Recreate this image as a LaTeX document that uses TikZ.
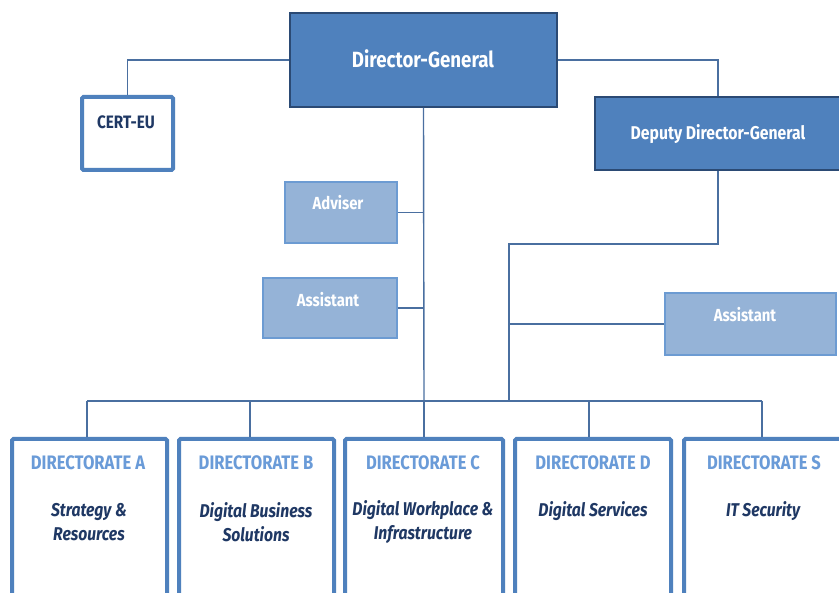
\documentclass[tikz,border=0pt]{standalone}
\usepackage{fontspec}
\setmainfont{Fira Sans}[FakeStretch=0.85]
\definecolor{mainblue}{HTML}{4F81BD}
\definecolor{darkedge}{HTML}{2B4A74}
\definecolor{lightfill}{HTML}{95B3D7}
\definecolor{lightedge}{HTML}{6C9BD2}
\definecolor{titleblue}{HTML}{6A9BD8}
\definecolor{navy}{HTML}{1F3864}
\definecolor{connc}{HTML}{4A6FA0}
\tikzset{
  topbox/.style={draw=darkedge, line width=1.8pt, fill=mainblue, inner sep=0pt},
  helpbox/.style={draw=lightedge, line width=1.2pt, fill=lightfill, inner sep=0pt},
  dirbox/.style={draw=mainblue, line width=4pt, fill=white, rounded corners=1.5pt, inner sep=0pt},
  conn/.style={draw=connc, line width=1.4pt},
  whitetxt/.style={text=white, font=\bfseries, inner sep=0pt},
  titletxt/.style={text=titleblue, font=\fontsize{19.5}{22}\selectfont\bfseries, inner sep=0pt},
  subtxt/.style={text=navy, font=\fontsize{18.5}{23.5}\selectfont\bfseries\itshape, align=center, inner sep=0pt},
}
\begin{document}
\begin{tikzpicture}[x=1pt,y=-1pt]
\useasboundingbox (0,0) rectangle (839,593);
\clip (0,0) rectangle (839,593);
\fill[white] (0,0) rectangle (839,593);
% boxes
\node[topbox, minimum width=267pt, minimum height=94pt] (dg) at (423.5,60) {};
\node[dirbox, minimum width=91pt, minimum height=73pt] (cert) at (127.5,133.5) {};
\node[topbox, minimum width=246pt, minimum height=73pt] (ddg) at (718,133.5) {};
\node[helpbox, minimum width=112pt, minimum height=61pt] (adv) at (341,212.5) {};
\node[helpbox, minimum width=134pt, minimum height=60pt] (asl) at (330,308) {};
\node[helpbox, minimum width=171pt, minimum height=62pt] (asr) at (750.5,324) {};
\node[dirbox, minimum width=155pt, minimum height=201pt] (dA) at (89.5,539.5) {};
\node[dirbox, minimum width=155pt, minimum height=201pt] (dB) at (256.5,539.5) {};
\node[dirbox, minimum width=158pt, minimum height=201pt] (dC) at (424,539.5) {};
\node[dirbox, minimum width=156pt, minimum height=201pt] (dD) at (593,539.5) {};
\node[dirbox, minimum width=158pt, minimum height=201pt] (dS) at (763,539.5) {};
% texts
\node[whitetxt, font=\fontsize{22}{25}\selectfont\bfseries] (tdg) at (423,59) {Director-General};
\node[text=navy, font=\fontsize{18}{20}\selectfont\bfseries, inner sep=0pt] (tcert) at (126,122) {CERT-EU};
\node[whitetxt, font=\fontsize{18.5}{21}\selectfont\bfseries] (tddg) at (718,134) {Deputy Director-General};
\node[whitetxt, font=\fontsize{17.5}{20}\selectfont\bfseries] (tadv) at (338,203) {Adviser};
\node[whitetxt, font=\fontsize{17.5}{20}\selectfont\bfseries] (tasl) at (328,300) {Assistant};
\node[whitetxt, font=\fontsize{17.5}{20}\selectfont\bfseries] (tasr) at (745,315) {Assistant};
\node[titletxt] (tA) at (88,463) {DIRECTORATE A};
\node[titletxt] (tB) at (256,463) {DIRECTORATE B};
\node[titletxt] (tC) at (423,463) {DIRECTORATE C};
\node[titletxt] (tD) at (593,463) {DIRECTORATE D};
\node[titletxt] (tS) at (764,463) {DIRECTORATE S};
\node[subtxt] (sA) at (89,522) {Strategy \&\\Resources};
\node[subtxt] (sB) at (256,522) {Digital Business\\Solutions};
\node[subtxt] (sC) at (423,522) {Digital Workplace \&\\Infrastructure};
\node[subtxt] (sD) at (593,511) {Digital Services};
\node[subtxt] (sS) at (763,511) {IT Security};
% junction coordinates
\coordinate (bus) at (424,401);
\coordinate (busL) at (87,401);
\coordinate (busR) at (762,401);
\coordinate (j1) at (509,244);
\coordinate (xB) at (250,401);
\coordinate (xD) at (589,401);
% connectors
\draw[conn] (dg.west) -| (cert.north);
\draw[conn] (dg.east) -| (ddg.north);
\draw[conn] (dg.south) -- (bus);
\draw[conn] (adv.east) -- (adv.east -| dg.south);
\draw[conn] (asl.east) -- (asl.east -| dg.south);
\draw[conn] (ddg.south) |- (j1) -- (j1 |- bus);
\draw[conn] (asr.west) -- (asr.west -| j1);
\draw[conn] (busL) -- (busR);
\draw[conn] (busL) -- (busL |- dA.north);
\draw[conn] (xB) -- (xB |- dB.north);
\draw[conn] (bus) -- (bus |- dC.north);
\draw[conn] (xD) -- (xD |- dD.north);
\draw[conn] (busR) -- (busR |- dS.north);
\end{tikzpicture}
\end{document}
